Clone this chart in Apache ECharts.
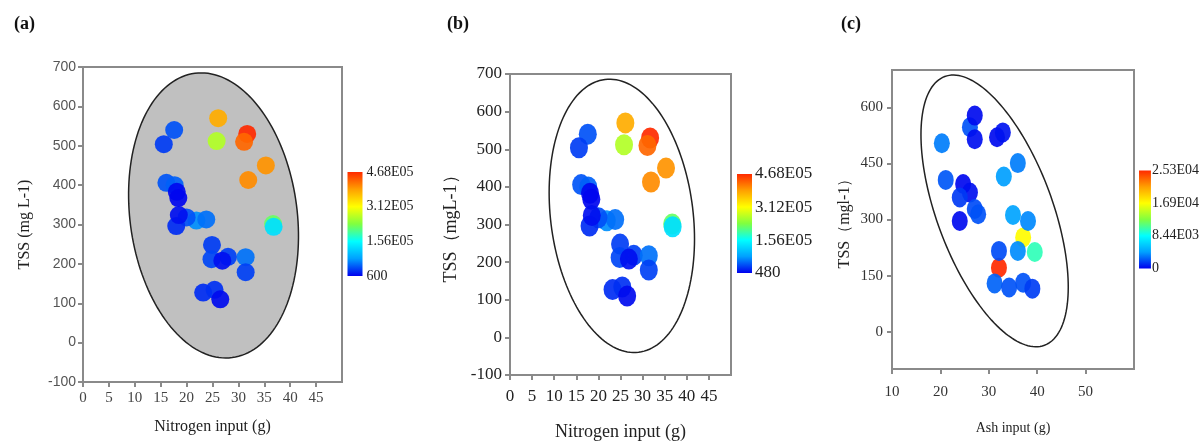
<!DOCTYPE html>
<html>
<head>
<meta charset="utf-8">
<title>TSS vs input</title>
<script src="https://cdn.jsdelivr.net/npm/echarts@6/dist/echarts.min.js"></script>
<style>
  html, body { margin: 0; padding: 0; background: #fff; }
  #chart { width: 1202px; height: 448px; }
</style>
</head>
<body>
<div id="chart"></div>
<script>
// panels a and b: nitrogen input (g) vs TSS, colour = third variable
const nitroX = [17.6, 15.6, 26.1, 25.8, 31.7, 31.1, 35.3, 31.9, 16.1, 17.7, 18.1, 18.4,
                21.9, 23.8, 20.0, 18.0, 18.5, 36.7, 36.8, 24.9, 24.8, 28.0, 26.9, 31.4,
                31.4, 23.2, 25.4, 26.5];
const tssY   = [540, 504, 570, 512, 530, 510, 450, 413, 406, 400, 383, 367,
                310, 313, 318, 296, 324, 301, 294, 248, 212, 218, 208, 217,
                179, 127, 134, 110];
const colorVal = [40000, 30000, 380000, 265000, 468000, 428000, 398000, 403000, 42000, 48000, 5000, 3000,
                  70000, 55000, 40000, 22000, 8000, 220000, 130000, 30000, 35000, 32000, 8000, 56000,
                  32000, 22000, 24000, 6000];

// panel c: ash input (g) vs TSS
const ashX = [20.3, 26.1, 27.1, 27.1, 31.7, 32.9, 36.0, 33.1, 21.1, 24.7, 26.1, 24.0,
              27.1, 27.8, 24.0, 35.0, 37.1, 38.1, 39.5, 36.0, 32.1, 32.1, 31.2, 34.2,
              37.1, 39.0];
const tssC = [504, 547, 578, 515, 520, 533, 451, 415, 406, 395, 372, 359,
              328, 314, 296, 312, 252, 296, 213, 216, 171, 216, 129, 118,
              131, 115];
const colorValC = [3300, 2200, 300, 400, 300, 500, 3300, 4200, 2300, 200, 400, 1500,
                   2000, 2200, 300, 4400, 17000, 3600, 10000, 3700, 25300, 2000, 2600, 2200,
                   2200, 1600];

// confidence ellipses: centre, major semi-axis vector, minor semi-axis vector (data units)
const ellipseA = [25.2, 323, -3.6, 361, 16.0, 27.5];
const ellipseB = [25.3, 323, -3.8, 362.5, 16.0, 23.0];
const ellipseC = [31.2, 323, -10.3, 359.5, 11.2, 53.8];

// colour bar ticks
const cbarTicksA = [600, 156000, 312000, 468000];
const cbarLabelsA = ['600', '1.56E05', '3.12E05', '4.68E05'];
const cbarTicksB = [480, 156000, 312000, 468000];
const cbarLabelsB = ['480', '1.56E05', '3.12E05', '4.68E05'];
const cbarTicksC = [0, 8440, 16900, 25300];
const cbarLabelsC = ['0', '8.44E03', '1.69E04', '2.53E04'];

const xTicksAB = [0, 5, 10, 15, 20, 25, 30, 35, 40, 45];
const xTicksC = [10, 20, 30, 40, 50];
const yTicksC = [0, 150, 300, 450, 600];

const jet = ['#0000ee', '#00a0ff', '#00ffff', '#80ff40', '#ffff00', '#ffa000', '#ff2a00'];

const serif = 'Liberation Serif';
const sans = 'Liberation Sans';
const frame = '#8a8a8a';

function zip3(a, b, c) {
  return a.map((v, i) => [v, b[i], c[i]]);
}

function ellipseSeries(idx, params, fill) {
  return {
    type: 'custom',
    xAxisIndex: idx,
    yAxisIndex: idx,
    z: 1,
    silent: true,
    encode: { x: 0, y: 1 },
    data: [params],
    renderItem: function (p, api) {
      const cx = api.value(0), cy = api.value(1);
      const ux = api.value(2), uy = api.value(3);
      const vx = api.value(4), vy = api.value(5);
      const pts = [];
      for (let i = 0; i < 160; i++) {
        const t = i / 160 * Math.PI * 2;
        pts.push(api.coord([cx + ux * Math.cos(t) + vx * Math.sin(t),
                            cy + uy * Math.cos(t) + vy * Math.sin(t)]));
      }
      return {
        type: 'polygon',
        shape: { points: pts },
        style: { fill: fill, stroke: '#222', lineWidth: 1.5 }
      };
    }
  };
}

function scatterSeries(idx, data, size) {
  return {
    type: 'scatter',
    xAxisIndex: idx,
    yAxisIndex: idx,
    z: 3,
    symbolSize: size,
    itemStyle: { opacity: 0.92 },
    data: data
  };
}

function cbarSeries(idx) {
  return {
    type: 'custom',
    xAxisIndex: idx,
    yAxisIndex: idx,
    silent: true,
    data: [[0.5, 0]],
    renderItem: function (p, api) {
      const cs = p.coordSys;
      return {
        type: 'rect',
        shape: { x: cs.x, y: cs.y, width: cs.width, height: cs.height },
        style: {
          fill: new echarts.graphic.LinearGradient(0, 1, 0, 0,
            jet.map((c, i) => ({ offset: i / (jet.length - 1), color: c })))
        }
      };
    }
  };
}

function mainX(min, max, interval, ticks, font, size, color, margin, name, nameSize, nameGap) {
  return {
    type: 'value', min: min, max: max, interval: interval,
    axisLine: { show: true, onZero: false, lineStyle: { color: frame, width: 2 } },
    axisTick: { show: true, length: 5, customValues: ticks, lineStyle: { color: frame, width: 2 } },
    axisLabel: { customValues: ticks, fontFamily: font, fontSize: size, color: color, margin: margin },
    splitLine: { show: false },
    name: name, nameLocation: 'middle', nameGap: nameGap,
    nameTextStyle: { fontFamily: serif, fontSize: nameSize, color: '#222' }
  };
}

function mainY(ticks, interval, font, size, color, margin, name, nameSize, nameGap) {
  const ax = {
    type: 'value', min: -100, max: 700,
    axisLine: { show: true, onZero: false, lineStyle: { color: frame, width: 2 } },
    axisTick: { show: true, length: 5, lineStyle: { color: frame, width: 2 } },
    axisLabel: { fontFamily: font, fontSize: size, color: color, margin: margin },
    splitLine: { show: false },
    name: name, nameLocation: 'middle', nameGap: nameGap,
    nameTextStyle: { fontFamily: serif, fontSize: nameSize, color: '#222' }
  };
  if (interval) ax.interval = interval;
  if (ticks) {
    ax.axisTick.customValues = ticks;
    ax.axisLabel.customValues = ticks;
  }
  return ax;
}

function cbarY(min, max, ticks, labels, size, margin, pad) {
  return {
    type: 'value', min: min, max: max, position: 'right',
    axisLine: { show: false }, axisTick: { show: false }, splitLine: { show: false },
    axisLabel: {
      customValues: ticks,
      formatter: v => labels[ticks.indexOf(v)],
      fontFamily: serif, fontSize: size, color: '#222', margin: margin,
      padding: [pad, 0, 0, 0]
    }
  };
}

const cbarX = { type: 'value', min: 0, max: 1, show: false };

const chart = echarts.init(document.getElementById('chart'));

const option = {
  animation: false,
  title: [
    { text: '(a)', left: 9, top: 10, textStyle: { fontFamily: serif, fontWeight: 'bold', fontSize: 18, color: '#111' } },
    { text: '(b)', left: 442, top: 10, textStyle: { fontFamily: serif, fontWeight: 'bold', fontSize: 18, color: '#111' } },
    { text: '(c)', left: 836, top: 10, textStyle: { fontFamily: serif, fontWeight: 'bold', fontSize: 18, color: '#111' } }
  ],
  grid: [
    { left: 83, top: 67, width: 259, height: 315, show: true, borderColor: frame, borderWidth: 2 },
    { left: 510, top: 74, width: 221, height: 301, show: true, borderColor: frame, borderWidth: 2 },
    { left: 892, top: 70, width: 242, height: 299, show: true, borderColor: frame, borderWidth: 2 },
    { left: 347.5, top: 172, width: 15, height: 104 },
    { left: 737, top: 174, width: 15, height: 99 },
    { left: 1139, top: 170.5, width: 12.5, height: 98 }
  ],
  xAxis: [
    Object.assign(mainX(0, 50, 5, xTicksAB, serif, 15, '#444', 9, 'Nitrogen input (g)', 16, 37), { gridIndex: 0 }),
    Object.assign(mainX(0, 50, 5, xTicksAB, serif, 17, '#222', 13, 'Nitrogen input (g)', 18, 48), { gridIndex: 1 }),
    Object.assign(mainX(10, 60, 10, xTicksC, serif, 15, '#333', 16, 'Ash input (g)', 14, 52), { gridIndex: 2 }),
    Object.assign({ gridIndex: 3 }, cbarX),
    Object.assign({ gridIndex: 4 }, cbarX),
    Object.assign({ gridIndex: 5 }, cbarX)
  ],
  yAxis: [
    Object.assign(mainY(null, 100, sans, 14, '#555', 7, 'TSS (mg L-1)', 16, 50), { gridIndex: 0 }),
    Object.assign(mainY(null, 100, serif, 17, '#222', 8, 'TSS（mgL-1）', 18, 50), { gridIndex: 1 }),
    Object.assign(mainY(yTicksC, null, serif, 15, '#333', 9, 'TSS（mgl-1）', 16, 39), { gridIndex: 2 }),
    Object.assign(cbarY(600, 468000, cbarTicksA, cbarLabelsA, 14, 4, 0), { gridIndex: 3 }),
    Object.assign(cbarY(480, 468000, cbarTicksB, cbarLabelsB, 17, 3, 6), { gridIndex: 4 }),
    Object.assign(cbarY(0, 25300, cbarTicksC, cbarLabelsC, 14, 1, 8), { gridIndex: 5 })
  ],
  visualMap: [
    { type: 'continuous', show: false, min: 600, max: 468000, dimension: 2, seriesIndex: 1, inRange: { color: jet } },
    { type: 'continuous', show: false, min: 480, max: 468000, dimension: 2, seriesIndex: 3, inRange: { color: jet } },
    { type: 'continuous', show: false, min: 0, max: 25300, dimension: 2, seriesIndex: 5, inRange: { color: jet } }
  ],
  series: [
    ellipseSeries(0, ellipseA, '#c0c0c0'),
    scatterSeries(0, zip3(nitroX, tssY, colorVal), 18),
    ellipseSeries(1, ellipseB, 'rgba(0,0,0,0)'),
    scatterSeries(1, zip3(nitroX, tssY, colorVal), [18, 21]),
    ellipseSeries(2, ellipseC, 'rgba(0,0,0,0)'),
    scatterSeries(2, zip3(ashX, tssC, colorValC), [16, 20]),
    cbarSeries(3),
    cbarSeries(4),
    cbarSeries(5)
  ]
};

chart.setOption(option);
</script>
</body>
</html>
